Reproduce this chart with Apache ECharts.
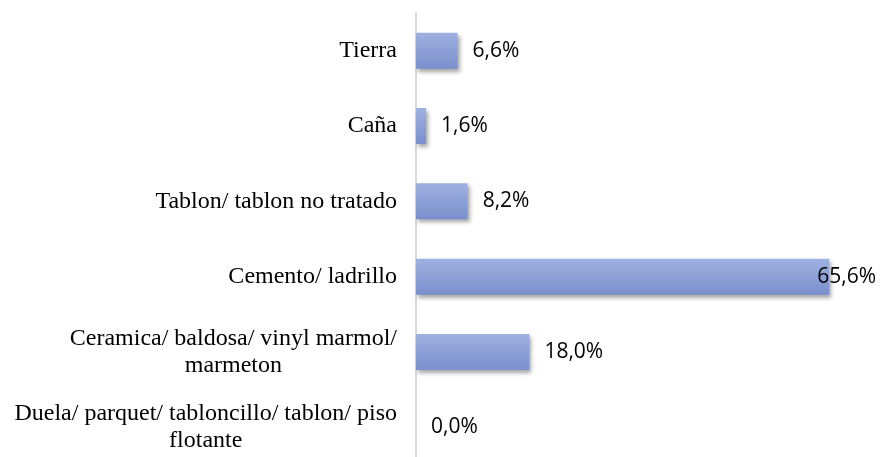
<!DOCTYPE html>
<html>
<head>
<meta charset="utf-8">
<script src="https://cdn.jsdelivr.net/npm/echarts@6/dist/echarts.min.js"></script>
<style>
  html, body { margin: 0; padding: 0; background: #fff; }
  #main { width: 880px; height: 457px; }
</style>
</head>
<body>
<div id="main"></div>
<script>
// categories from top to bottom, as in the picture
var categorias = [
  'Tierra',
  'Caña',
  'Tablon/ tablon no tratado',
  'Cemento/ ladrillo',
  'Ceramica/ baldosa/ vinyl marmol/\nmarmeton',
  'Duela/ parquet/ tabloncillo/ tablon/ piso\nflotante'
];
var porcentajes = [6.6, 1.6, 8.2, 65.6, 18.0, 0.0];

var myChart = echarts.init(document.getElementById('main'));

var datos = porcentajes.map(function (v, i) {
  var item = { value: v };
  // la barra grande: etiqueta pegada al final, como en el original
  if (v > 60) item.label = { distance: -12 };
  return item;
});

var option = {
  animation: false,
  grid: {
    left: 416, right: 23, top: 13, height: 452,
    containLabel: false,
    outerBoundsMode: 'none'
  },
  xAxis: {
    type: 'value',
    min: 0,
    max: 70,
    show: false
  },
  yAxis: {
    type: 'category',
    inverse: true,
    data: categorias,
    axisLine: { show: true, lineStyle: { color: '#d9d9d9', width: 2 } },
    axisTick: { show: false },
    axisLabel: {
      margin: 19,
      align: 'right',
      formatter: function (v) {
        return v.split('\n').map(function (l) { return '{c|' + l + '}'; }).join('\n');
      },
      rich: {
        c: {
          align: 'center',
          fontFamily: '"Liberation Serif", "Times New Roman", serif',
          fontSize: 24,
          lineHeight: 27,
          color: '#000'
        }
      }
    }
  },
  series: [{
    type: 'bar',
    data: datos,
    barWidth: 36,
    itemStyle: {
      color: new echarts.graphic.LinearGradient(0, 0, 0, 1, [
        { offset: 0, color: '#9fb1e0' },
        { offset: 1, color: '#7a8fcd' }
      ]),
      shadowColor: 'rgba(0,0,0,0.35)',
      shadowBlur: 4,
      shadowOffsetX: 2,
      shadowOffsetY: 3
    },
    label: {
      show: true,
      position: 'right',
      distance: 15,
      fontFamily: '"Open Sans", "Liberation Sans", sans-serif',
      fontSize: 21,
      color: '#000',
      formatter: function (p) {
        return p.value.toFixed(1).replace('.', ',') + '%';
      }
    }
  }]
};

myChart.setOption(option);
</script>
</body>
</html>
